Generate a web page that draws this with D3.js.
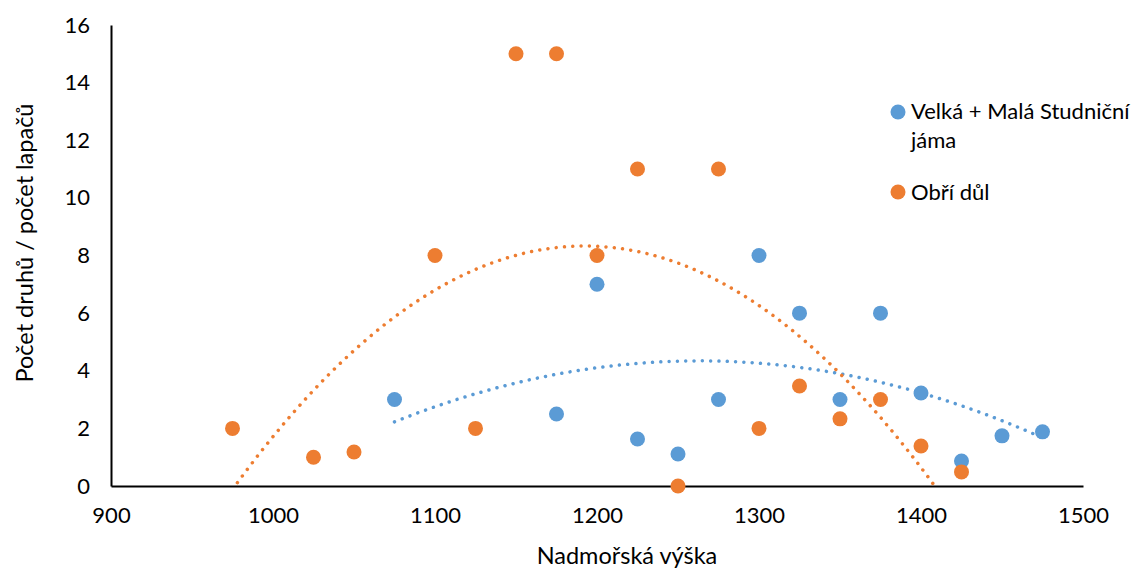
<!DOCTYPE html>
<html lang="cs">
<head>
<meta charset="UTF-8">
<title>Počet druhů podle nadmořské výšky</title>
<script src="https://d3js.org/d3.v7.min.js"></script>
<style>
    body { margin: 0; background: #fff; font-family: Lato, "Open Sans", sans-serif; }
    .tick text { font-size: 22px; fill: #000; }
    .axis-title { font-size: 23.5px; fill: #000; }
    .legend text { font-size: 22px; fill: #000; }
</style>
</head>
<body>
<div id="chart"></div>
<script>
// Velká + Malá Studniční jáma
var blueX = [1075, 1175, 1200, 1225, 1250, 1275, 1300, 1325, 1350, 1375, 1400, 1425, 1450, 1475];
var blueY = [3, 2.5, 7, 1.63, 1.11, 3, 8, 6, 3, 6, 3.23, 0.87, 1.74, 1.88];
// Obří důl
var orangeX = [975, 1025, 1050, 1100, 1125, 1150, 1175, 1200, 1225, 1250, 1275, 1300, 1325, 1350, 1375, 1400, 1425];
var orangeY = [2, 1, 1.18, 8, 2, 15, 15, 8, 11, 0, 11, 2, 3.47, 2.33, 3, 1.39, 0.49];

var xTicks = [900, 1000, 1100, 1200, 1300, 1400, 1500];
var yTicks = [0, 2, 4, 6, 8, 10, 12, 14, 16];
var seriesNames = ["Velká + Malá Studniční jáma", "Obří důl"];
var colors = ["#5B9BD5", "#ED7D31"];

var width = 1134, height = 569;
var margin = { left: 111, right: 51, top: 25, bottom: 83 };

var svg = d3.select("#chart").append("svg")
    .attr("width", width)
    .attr("height", height);

var x = d3.scaleLinear().domain([900, 1500]).range([margin.left, width - margin.right]);
var y = d3.scaleLinear().domain([0, 16]).range([height - margin.bottom, margin.top]);

// osy
svg.append("g")
    .attr("transform", "translate(0," + y(0) + ")")
    .call(d3.axisBottom(x).tickValues(xTicks).tickFormat(d3.format("d")).tickSize(0).tickPadding(21))
    .call(function(g) { g.select(".domain").attr("stroke", "#000").attr("stroke-width", 2); });

svg.append("g")
    .attr("transform", "translate(" + x(900) + ",0)")
    .call(d3.axisLeft(y).tickValues(yTicks).tickSize(0).tickPadding(21))
    .call(function(g) { g.select(".domain").attr("stroke", "#000").attr("stroke-width", 2); });

svg.selectAll(".tick text").attr("font-family", "Lato, 'Open Sans', sans-serif");

svg.append("text")
    .attr("class", "axis-title")
    .attr("x", 627)
    .attr("y", 564)
    .attr("text-anchor", "middle")
    .text("Nadmořská výška");

svg.append("text")
    .attr("class", "axis-title")
    .attr("transform", "translate(33," + 243 + ") rotate(-90)")
    .attr("text-anchor", "middle")
    .text("Počet druhů / počet lapačů");

// polynomický trend 2. stupně (nejmenší čtverce)
function polyFit(xs, ys) {
    var s = [0, 0, 0, 0, 0], t = [0, 0, 0];
    var x0 = d3.mean(xs);
    xs.forEach(function(v, i) {
        var u = v - x0;
        for (var k = 0; k < 5; k++) s[k] += Math.pow(u, k);
        for (var k2 = 0; k2 < 3; k2++) t[k2] += ys[i] * Math.pow(u, k2);
    });
    var A = [[s[0], s[1], s[2], t[0]], [s[1], s[2], s[3], t[1]], [s[2], s[3], s[4], t[2]]];
    for (var i = 0; i < 3; i++) {
        for (var j = i + 1; j < 3; j++) {
            var f = A[j][i] / A[i][i];
            for (var k = i; k < 4; k++) A[j][k] -= f * A[i][k];
        }
    }
    var c = [0, 0, 0];
    for (var i2 = 2; i2 >= 0; i2--) {
        var sum = A[i2][3];
        for (var k3 = i2 + 1; k3 < 3; k3++) sum -= A[i2][k3] * c[k3];
        c[i2] = sum / A[i2][i2];
    }
    return function(v) { var u = v - x0; return c[0] + c[1] * u + c[2] * u * u; };
}

svg.append("clipPath").attr("id", "plot")
    .append("rect")
    .attr("x", x(900)).attr("y", y(16))
    .attr("width", x(1500) - x(900)).attr("height", y(0) - y(16));

var line = d3.line().x(function(d) { return x(d[0]); }).y(function(d) { return y(d[1]); });

[[blueX, blueY], [orangeX, orangeY]].forEach(function(s, i) {
    var f = polyFit(s[0], s[1]);
    var lo = d3.min(s[0]), hi = d3.max(s[0]);
    var pts = d3.range(lo, hi + 0.5, 2).map(function(v) { return [v, f(v)]; });
    svg.append("path")
        .attr("clip-path", "url(#plot)")
        .attr("d", line(pts))
        .attr("fill", "none")
        .attr("stroke", colors[i])
        .attr("stroke-width", 3.5)
        .attr("stroke-linecap", "round")
        .attr("stroke-dasharray", "0.01 8.3");
});

// body
[[blueX, blueY], [orangeX, orangeY]].forEach(function(s, i) {
    svg.append("g").selectAll("circle")
        .data(s[0].map(function(v, j) { return [v, s[1][j]]; }))
        .enter().append("circle")
        .attr("cx", function(d) { return x(d[0]); })
        .attr("cy", function(d) { return y(d[1]); })
        .attr("r", 7.5)
        .attr("fill", colors[i]);
});

// legenda
var legend = svg.append("g").attr("class", "legend");
legend.append("circle").attr("cx", 898).attr("cy", 112).attr("r", 7.5).attr("fill", colors[0]);
legend.append("text").attr("x", 911).attr("y", 119).text("Velká + Malá Studniční");
legend.append("text").attr("x", 911).attr("y", 148).text("jáma");
legend.append("circle").attr("cx", 898).attr("cy", 192).attr("r", 7.5).attr("fill", colors[1]);
legend.append("text").attr("x", 911).attr("y", 200).text(seriesNames[1]);
</script>
</body>
</html>
